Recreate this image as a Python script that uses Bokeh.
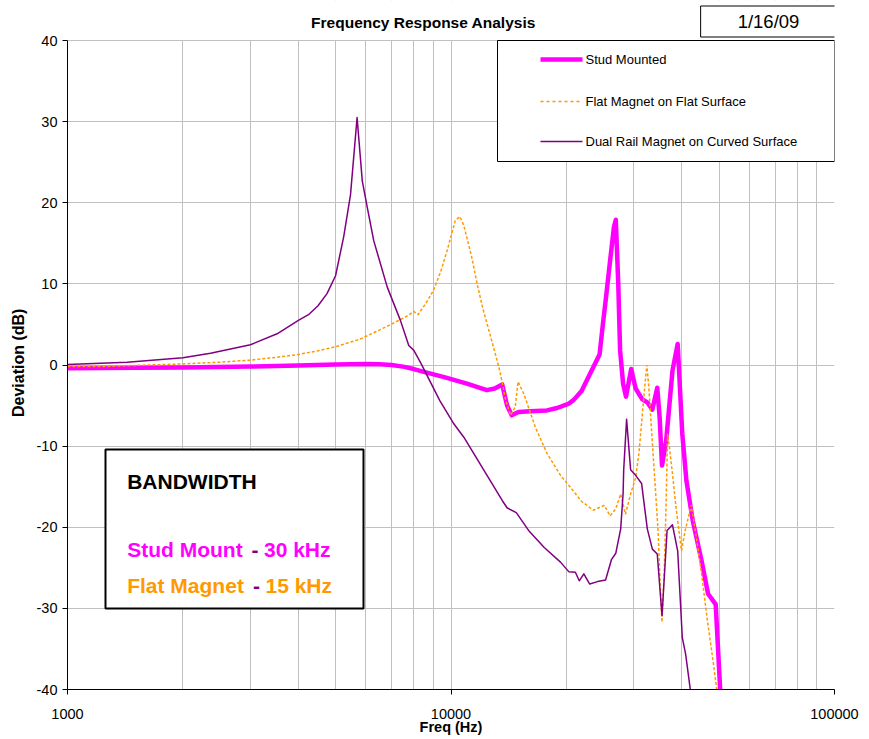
import math
from bokeh.plotting import figure
from bokeh.models import FixedTicker, NumeralTickFormatter, Label, BoxAnnotation, Arrow, Range1d
from bokeh.embed import file_html
from bokeh.resources import INLINE

# ---------------- data ----------------
stud_freq = [1000, 1500, 2000, 3000, 4000, 5000, 6000, 6500, 7000, 7500, 8000, 8500, 9600, 11000,
             12400, 13000, 13600, 14000, 14400, 15000, 16100, 17800, 18900, 20300, 20900, 21900,
             23100, 24400, 24900, 25300, 26000, 26600, 26900, 27300, 27600, 28100, 28600, 29500,
             30300, 31500, 32500, 33500, 34500, 35000, 35500, 36400, 37800, 39000, 40100, 41100,
             42700, 45000, 46800, 49000, 50300, 50500]
stud_db = [-0.4, -0.35, -0.3, -0.2, -0.07, 0.05, 0.13, 0.1, 0.0, -0.2, -0.5, -0.85, -1.5, -2.3,
           -3.1, -2.9, -2.4, -5.0, -6.2, -5.8, -5.7, -5.6, -5.3, -4.75, -4.3, -3.2,
           -1.0, 1.3, 5.1, 7.9, 12.9, 17.0, 17.9, 10.0, 1.8, -2.3, -3.9, -0.5,
           -2.9, -4.2, -4.6, -5.5, -2.8, -6.5, -12.4, -9.3, -0.7, 2.6, -8.5, -14.25,
           -19.2, -24.1, -28.2, -29.5, -39.7, -41.0]

flat_freq = [1000, 1220, 1500, 2000, 2500, 3000, 3500, 4000, 4500, 5000, 5800, 6050, 6500, 7100,
             7600, 8000, 8200, 8600, 9000, 9400, 9770, 10260, 10540, 10800, 11300, 11700, 12100,
             12600, 13200, 13400, 13900, 14300, 14700, 14960, 15500, 16600, 17800, 19300, 20500,
             21900, 23500, 25100, 26000, 26900, 27700, 28500, 29400, 30300, 30900, 31500, 32000,
             32400, 32800, 33300, 34100, 34700, 35100, 35500, 36000, 36400, 36700, 37100, 37800,
             38600, 39300, 39900, 40800, 42300, 43500, 45000, 46500, 48200, 49100, 49600]
flat_db = [-0.2, -0.2, -0.05, 0.13, 0.35, 0.6, 0.95, 1.3, 1.75, 2.25, 3.2, 3.6, 4.3, 5.2,
           5.9, 6.6, 6.2, 7.6, 9.2, 11.5, 14.1, 17.8, 18.3, 17.2, 13.5, 10.0, 7.0,
           4.0, 0.5, -0.7, -4.4, -6.2, -5.2, -2.05, -3.6, -7.7, -10.9, -13.6, -15.1,
           -16.8, -17.9, -17.3, -18.6, -17.7, -15.9, -18.4, -15.9, -13.9, -10.9, -6.4, -2.75,
           0.0, -2.75, -7.7, -15.1, -20.8, -27.0, -31.7, -25.0, -16.7, -8.5, -10.1, -13.4,
           -17.5, -20.4, -22.9, -20.4, -17.3, -20.8, -25.7, -31.1, -36.4, -39.3, -41.0]

dual_freq = [1000, 1430, 2000, 2360, 3000, 3520, 4000, 4250, 4500, 4750, 5000, 5250, 5470, 5690,
             5870, 6050, 6290, 6820, 7380, 7760, 8000, 8330, 9350, 10170, 10800, 13600, 14000,
             14800, 16000, 17500, 19300, 20300, 21100, 21600, 22200, 23000, 24100, 25300, 26200,
             26900, 27700, 28100, 28200, 28700, 29400, 30300, 31400, 32500, 33500, 34500, 35500,
             36600, 37800, 39000, 40100, 40900, 42100, 42500]
dual_db = [0.05, 0.35, 0.9, 1.45, 2.5, 3.85, 5.5, 6.2, 7.3, 8.8, 11.0, 15.8, 21.0, 30.5,
           22.7, 19.4, 15.3, 9.6, 5.5, 2.4, 1.8, 0.3, -4.4, -7.25, -8.9, -16.7, -17.6,
           -18.2, -20.5, -22.5, -24.3, -25.5, -25.55, -26.6, -25.75, -27.0, -26.7, -26.5, -24.0,
           -23.2, -20.2, -15.9, -13.0, -6.7, -12.9, -13.6, -14.6, -20.2, -22.7, -23.3, -30.9,
           -20.4, -19.7, -22.9, -33.6, -35.6, -40.1, -42.0]

series_names = ["Stud Mounted", "Flat Magnet on Flat Surface", "Dual Rail Magnet on Curved Surface"]
x_ticks = [1000, 10000, 100000]
x_minor = [2000, 3000, 4000, 5000, 6000, 7000, 8000, 9000,
           20000, 30000, 40000, 50000, 60000, 70000, 80000, 90000]
y_ticks = [-40, -30, -20, -10, 0, 10, 20, 30, 40]
y_min, y_max = -40, 40
title_text = "Frequency Response Analysis"
date_text = "1/16/09"
x_label = "Freq (Hz)"
y_label = "Deviation (dB)"

# ---------------- styling ----------------
FONT = "Liberation Sans"
MAGENTA = "#FF00FF"
ORANGE = "#FF9900"
PURPLE = "#800080"
GRID = "#c0c0c0"

# frame placement in page pixels: the frame reaches the canvas top so that the
# title and date box (drawn as labels) are not clipped; the data area is 40..689
L, FW = 67, 767
DATA_TOP, DATA_BOTTOM = 40, 689
FH = DATA_BOTTOM


def fx(px):
    return 10 ** (3 + 2 * (px - L) / FW)


def fy(py):
    return y_max - (y_max - y_min) * (py - DATA_TOP) / (DATA_BOTTOM - DATA_TOP)


p = figure(x_axis_type="log", x_range=Range1d(1000, 100000), y_range=Range1d(y_min, fy(0)),
           frame_width=FW, frame_height=FH,
           min_border_left=L, min_border_top=0, min_border_right=27, min_border_bottom=48,
           output_backend="svg", toolbar_location=None,
           background_fill_color="white", border_fill_color="white")
p.outline_line_color = None

xt = FixedTicker(ticks=x_ticks, minor_ticks=x_minor)
yt = FixedTicker(ticks=y_ticks)
p.xaxis.ticker = xt
p.xgrid.ticker = xt
p.yaxis.ticker = yt
p.ygrid.ticker = yt
p.xaxis.formatter = NumeralTickFormatter(format="0")
p.yaxis.formatter = NumeralTickFormatter(format="0")
p.yaxis.bounds = (y_min, y_max)

for ax in (p.xaxis, p.yaxis):
    ax.axis_line_color = "black"
    ax.axis_line_width = 1
    ax.major_tick_line_color = "black"
    ax.major_tick_out = 5
    ax.major_tick_in = 0
    ax.minor_tick_line_color = None
    ax.major_label_text_font = FONT
    ax.major_label_text_font_size = "14.5px"
    ax.major_label_text_color = "black"
    ax.axis_label_text_font = FONT
    ax.axis_label_text_font_style = "bold"
    ax.axis_label_text_color = "black"
p.xaxis.major_label_standoff = 14
p.yaxis.major_label_standoff = 5
p.xaxis.axis_label = x_label
p.xaxis.axis_label_text_font_size = "14.5px"
p.xaxis.axis_label_standoff = -3
# the axis label is centred on the whole frame (which reaches the canvas top);
# trailing no-break spaces move the visible text down to the middle of the data area
p.yaxis.axis_label = y_label + "\u00a0" * 8
p.yaxis.axis_label_text_font_size = "16px"
p.yaxis.axis_label_standoff = 7

p.xgrid.grid_line_color = GRID
p.xgrid.minor_grid_line_color = GRID
p.ygrid.grid_line_color = GRID

p.line(stud_freq, stud_db, line_color=MAGENTA, line_width=4.5, line_join="round")
p.line(flat_freq, flat_db, line_color=ORANGE, line_width=1.5, line_dash="3 2")
p.line(dual_freq, dual_db, line_color=PURPLE, line_width=1.5, line_join="round")

# white cover above the data area (hides the vertical grid lines there)
p.add_layout(BoxAnnotation(bottom=fy(39.5), fill_color="white", fill_alpha=1, line_color=None))

# ---------------- legend box ----------------
p.add_layout(BoxAnnotation(left=fx(497), right=fx(834), top=fy(40), bottom=fy(161),
                           fill_color="white", fill_alpha=1, line_color="black", line_alpha=1,
                           line_width=1))
leg_styles = [dict(line_color=MAGENTA, line_width=4.5),
              dict(line_color=ORANGE, line_width=1.5, line_dash="3 3"),
              dict(line_color=PURPLE, line_width=1.5)]
leg_rows = [59, 101, 141]
for name, st, ry in zip(series_names, leg_styles, leg_rows):
    p.add_layout(Arrow(end=None, x_start=fx(540), y_start=fy(ry), x_end=fx(582), y_end=fy(ry), **st))
    p.add_layout(Label(x=fx(585), y=fy(ry), text=name, text_font=FONT, text_font_size="13px",
                       text_align="left", text_baseline="middle", text_color="black"))

# ---------------- bandwidth box ----------------
p.add_layout(BoxAnnotation(left=fx(105), right=fx(363), top=fy(449), bottom=fy(608),
                           fill_color="white", fill_alpha=1, line_color="black", line_alpha=1,
                           line_width=2))
bw_parts = [("BANDWIDTH", 126.7, 481, "black"),
            ("Stud Mount", 126.7, 549, MAGENTA), ("-", 251, 549, PURPLE), ("30 kHz", 263.5, 549, MAGENTA),
            ("Flat Magnet", 126.7, 585, ORANGE), ("-", 252.5, 585, PURPLE), ("15 kHz", 265, 585, ORANGE)]
for txt, px, py, col in bw_parts:
    p.add_layout(Label(x=fx(px), y=fy(py), text=txt, text_font=FONT, text_font_size="21px",
                       text_font_style="bold", text_color=col, text_align="left", text_baseline="middle"))

# ---------------- title and date box ----------------
p.add_layout(Label(x=fx(423), y=fy(22), text=title_text, text_font=FONT, text_font_size="15.5px",
                   text_font_style="bold", text_color="black", text_align="center",
                   text_baseline="middle"))
p.add_layout(Label(x=fx(768), y=fy(21), text=date_text, text_font=FONT, text_font_size="18.5px",
                   text_color="black", text_align="center", text_baseline="middle",
                   border_line_color="black", border_line_width=1, background_fill_color="white",
                   padding=dict(left=37, right=37, top=5, bottom=5)))

open("out.html", "w").write(file_html(p, INLINE))
